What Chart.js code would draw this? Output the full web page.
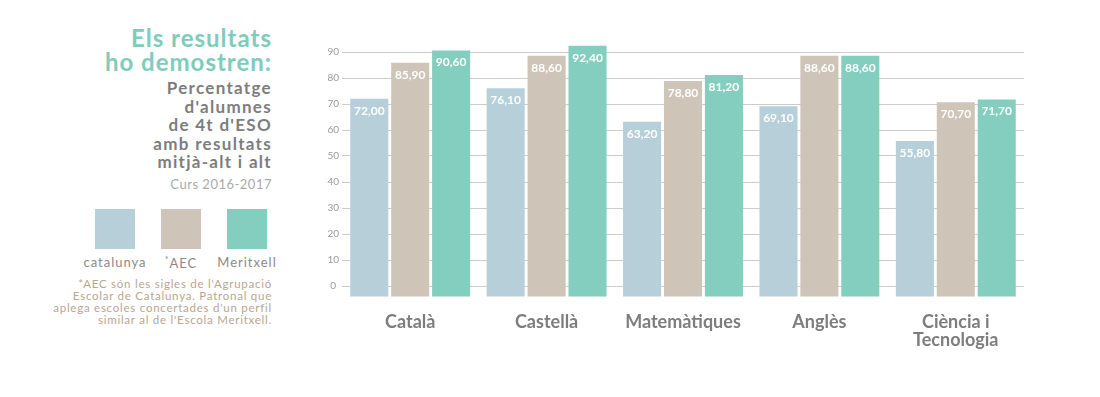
<!DOCTYPE html>
<html>
<head>
<meta charset="utf-8">
<script src="https://cdn.jsdelivr.net/npm/chart.js@4"></script>
<style>
  body { margin: 0; background: #fff; font-family: Lato, sans-serif; }
  #page { position: relative; width: 1100px; height: 397px; overflow: hidden; }
  #side { position: absolute; right: 828px; top: 26px; text-align: right; width: 280px; }
  .t1 { color: #7fccbb; font-weight: 700; font-size: 24px; line-height: 24px; letter-spacing: 1px; }
  .t2 { color: #7d7d7d; font-weight: 700; font-size: 17px; line-height: 18.5px; margin-top: 5px; letter-spacing: 1.3px; }
  .t3 { color: #aaa; font-size: 13px; line-height: 16px; margin-top: 4px; letter-spacing: 0.5px; }
  #legend { position: absolute; top: 209px; left: 80px; width: 210px; }
  .lg { position: absolute; width: 74px; text-align: center; color: #8a8a8a; font-size: 13px; letter-spacing: 1px; }
  .lg .sw { width: 40px; height: 40px; margin: 0 auto 5px auto; }
  #note { position: absolute; right: 828px; top: 278px; width: 280px; text-align: right;
          color: #b8a690; font-size: 11.5px; line-height: 12px; letter-spacing: 0.75px; }
  #wrap { position: absolute; left: 300px; top: 30px; width: 730px; height: 324px; }
</style>
</head>
<body>
<div id="page">
  <div id="side">
    <div class="t1">Els resultats<br>ho demostren:</div>
    <div class="t2">Percentatge<br>d'alumnes<br>de 4t d'ESO<br>amb resultats<br>mitjà-alt i alt</div>
    <div class="t3">Curs 2016-2017</div>
  </div>
  <div id="legend"></div>
  <div id="note">*AEC són les sigles de l'Agrupació<br>Escolar de Catalunya. Patronal que<br>aplega escoles concertades d'un perfil<br>similar al de l'Escola Meritxell.</div>
  <div id="wrap"><canvas id="chart"></canvas></div>
</div>
<script>
const subjects = ['Català', 'Castellà', 'Matemàtiques', 'Anglès', ['Ciència i', 'Tecnologia']];
const seriesNames = ['catalunya', '*AEC', 'Meritxell'];
const catalunya = [72.0, 76.1, 63.2, 69.1, 55.8];
const aec = [85.9, 88.6, 78.8, 88.6, 70.7];
const meritxell = [90.6, 92.4, 81.2, 88.6, 71.7];
const yTicks = [0, 10, 20, 30, 40, 50, 60, 70, 80, 90];
const colors = ['#b6cfd8', '#cfc4b8', '#84cebf'];

// legend in the side panel
const legendBox = document.getElementById('legend');
seriesNames.forEach((name, i) => {
  const d = document.createElement('div');
  d.className = 'lg';
  d.style.left = (i * 66 - 2) + 'px';
  const label = name.startsWith('*') ? '<sup style="font-size:9px">*</sup>' + name.slice(1) : name;
  d.innerHTML = '<div class="sw" style="background:' + colors[i] + '"></div>' + label;
  legendBox.appendChild(d);
});

// white value labels inside the top of every bar
const valueLabels = {
  id: 'valueLabels',
  afterDatasetsDraw(chart) {
    const ctx = chart.ctx;
    ctx.save();
    ctx.fillStyle = '#fff';
    ctx.font = 'bold 12px Lato, sans-serif';
    ctx.textAlign = 'center';
    ctx.textBaseline = 'middle';
    chart.data.datasets.forEach((ds, i) => {
      chart.getDatasetMeta(i).data.forEach((bar, j) => {
        ctx.fillText(ds.data[j].toFixed(2).replace('.', ','), bar.x, bar.y + 12);
      });
    });
    ctx.restore();
  }
};

new Chart(document.getElementById('chart'), {
  type: 'bar',
  data: {
    labels: subjects,
    datasets: [
      { label: seriesNames[0], data: catalunya, backgroundColor: colors[0] },
      { label: seriesNames[1], data: aec, backgroundColor: colors[1] },
      { label: seriesNames[2], data: meritxell, backgroundColor: colors[2] }
    ]
  },
  options: {
    responsive: true,
    maintainAspectRatio: false,
    animation: false,
    layout: { padding: { top: 5, right: 6 } },
    datasets: { bar: { base: -4, categoryPercentage: 0.9, barPercentage: 0.93 } },
    plugins: { legend: { display: false }, tooltip: { enabled: false } },
    scales: {
      x: {
        grid: { display: false },
        border: { display: false },
        ticks: { color: '#7d7d7d', font: { family: 'Lato', size: 18, weight: 'bold', lineHeight: 1.0 }, padding: 6, maxRotation: 0 },
        afterFit: s => { s.height = 55; }
      },
      y: {
        min: -5,
        max: 95,
        border: { display: false },
        grid: { color: '#cccccc', lineWidth: 1, drawTicks: false },
        afterBuildTicks: s => { s.ticks = yTicks.map(v => ({ value: v })); },
        ticks: { color: '#999', font: { family: 'Lato', size: 10 }, padding: 3, crossAlign: 'center' },
        afterFit: s => { s.width = 42; }
      }
    }
  },
  plugins: [valueLabels]
});
</script>
</body>
</html>
